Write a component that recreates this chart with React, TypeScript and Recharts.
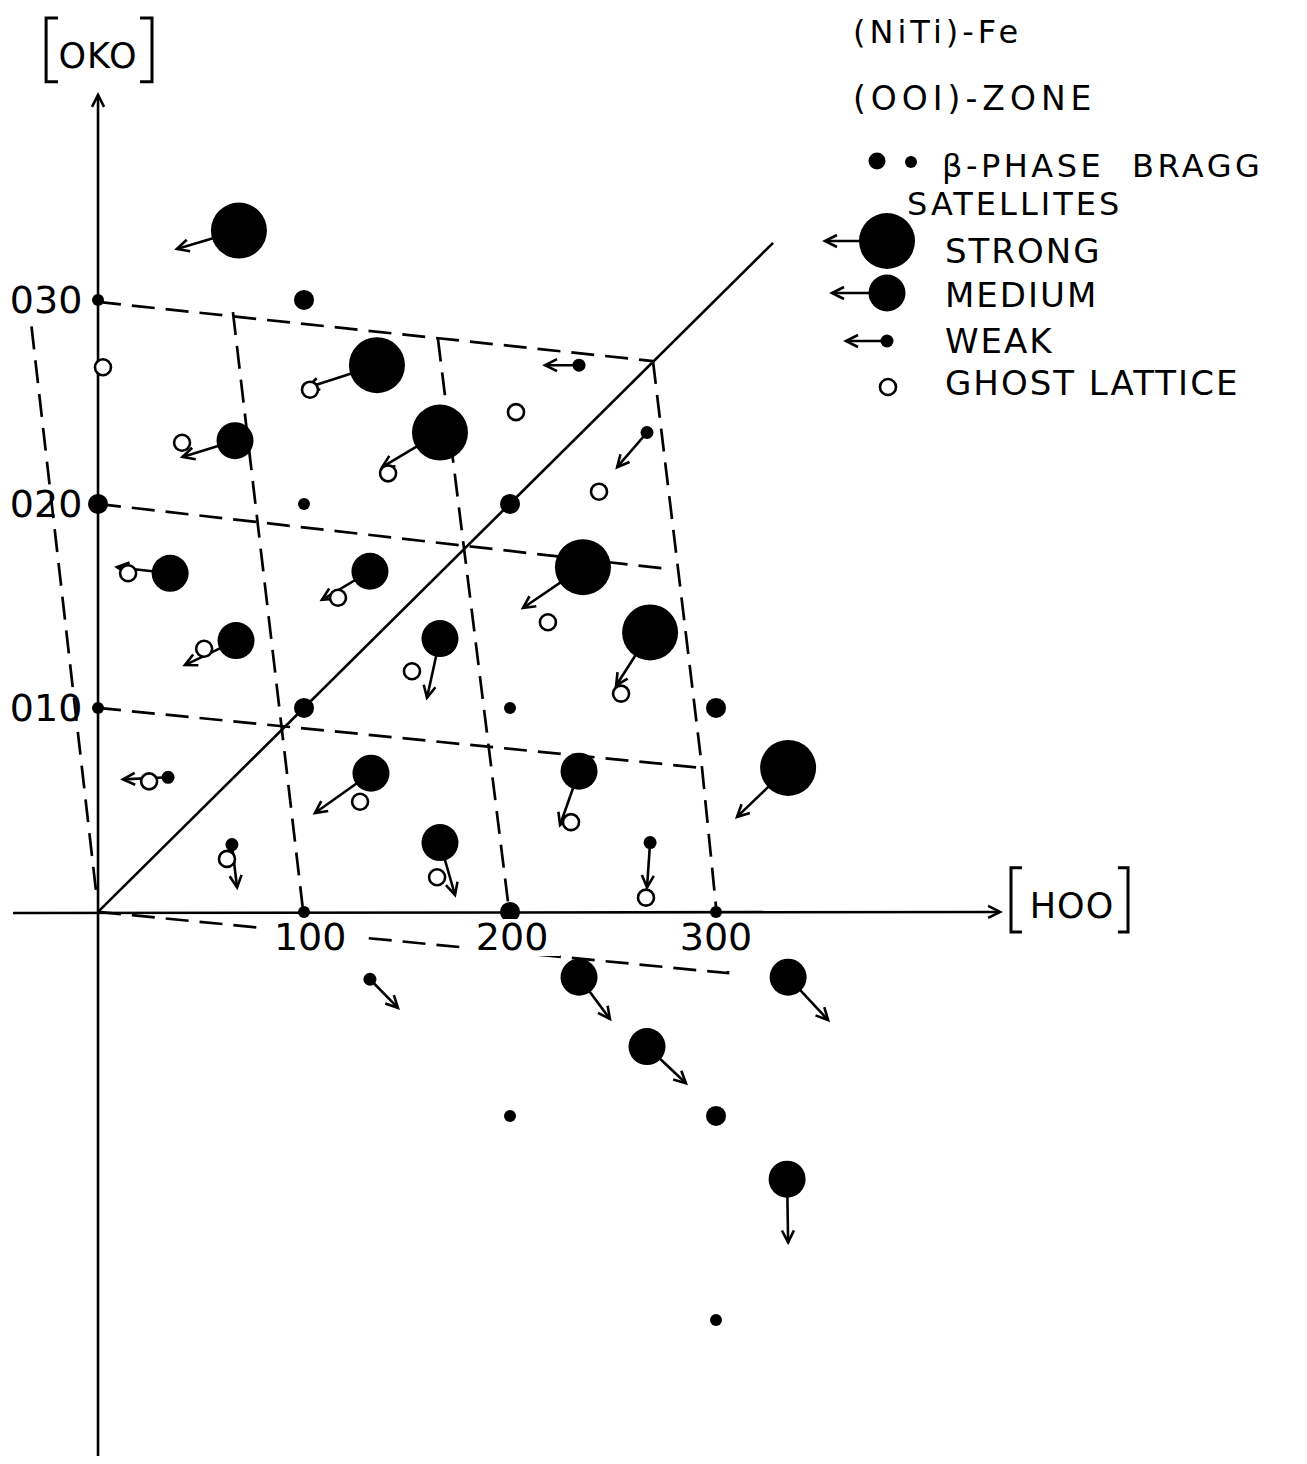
import React from "react";
import { ScatterChart, Scatter, XAxis, YAxis, Legend } from "recharts";

const W = 1291;
const H = 1448;
const FONT = '"DejaVu Sans", "Liberation Sans", sans-serif';

// reciprocal lattice: h in hundreds (100, 200, 300), k in tens (010, 020, 030)
const X_DOMAIN = [-43.7, 583.0];
const Y_DOMAIN = [-26.67, 44.31];

// beta-phase Bragg reflections
const braggSpots = [
  { x: 0, y: 30, kind: "small" },
  { x: 0, y: 20, kind: "large" },
  { x: 0, y: 10, kind: "small" },
  { x: 100, y: 30, kind: "large" },
  { x: 100, y: 20, kind: "small" },
  { x: 100, y: 10, kind: "large" },
  { x: 100, y: 0, kind: "small" },
  { x: 200, y: 20, kind: "large" },
  { x: 200, y: 10, kind: "small" },
  { x: 200, y: 0, kind: "large" },
  { x: 200, y: -10, kind: "small" },
  { x: 300, y: 10, kind: "large" },
  { x: 300, y: 0, kind: "small" },
  { x: 300, y: -10, kind: "large" },
  { x: 300, y: -20, kind: "small" },
];

// satellites: position (x, y) and arrow tip (tx, ty)
const strongSatellites = [
  { x: 68.4, y: 33.4, tx: 38.3, ty: 32.5 },
  { x: 135.4, y: 26.8, tx: 101.5, ty: 25.7 },
  { x: 166.0, y: 23.5, tx: 137.9, ty: 21.8 },
  { x: 235.4, y: 16.9, tx: 206.3, ty: 14.9 },
  { x: 268.0, y: 13.7, tx: 251.5, ty: 11.1 },
  { x: 335.0, y: 7.06, tx: 310.2, ty: 4.66 },
];

const mediumSatellites = [
  { x: 66.5, y: 23.1, tx: 41.0, ty: 22.3 },
  { x: 35.0, y: 16.6, tx: 9.2, ty: 16.9 },
  { x: 67.0, y: 13.3, tx: 42.2, ty: 12.1 },
  { x: 132.0, y: 16.7, tx: 108.7, ty: 15.3 },
  { x: 166.0, y: 13.4, tx: 159.7, ty: 10.5 },
  { x: 132.5, y: 6.8, tx: 105.3, ty: 4.85 },
  { x: 233.5, y: 6.9, tx: 224.3, ty: 4.26 },
  { x: 166.0, y: 3.4, tx: 173.3, ty: 0.83 },
  { x: 233.5, y: -3.2, tx: 248.5, ty: -5.25 },
  { x: 266.5, y: -6.6, tx: 285.4, ty: -8.4 },
  { x: 335.0, y: -3.2, tx: 354.4, ty: -5.3 },
  { x: 334.5, y: -13.1, tx: 335.0, ty: -16.2 },
];

const weakSatellites = [
  { x: 233.5, y: 26.8, tx: 217.0, ty: 26.8 },
  { x: 266.5, y: 23.5, tx: 252.0, ty: 21.8 },
  { x: 34.0, y: 6.6, tx: 12.1, ty: 6.5 },
  { x: 65.0, y: 3.3, tx: 67.5, ty: 1.2 },
  { x: 132.0, y: -3.3, tx: 145.6, ty: -4.7 },
  { x: 268.0, y: 3.4, tx: 266.5, ty: 1.2 },
];

const ghostSpots = [
  { x: 2.4, y: 26.7 },
  { x: 202.9, y: 24.5 },
  { x: 243.2, y: 20.6 },
  { x: 218.4, y: 14.2 },
  { x: 266.0, y: 0.7 },
  { x: 102.9, y: 25.6 },
  { x: 140.8, y: 21.5 },
  { x: 40.8, y: 23.0 },
  { x: 14.6, y: 16.6 },
  { x: 51.5, y: 12.9 },
  { x: 116.5, y: 15.4 },
  { x: 152.4, y: 11.8 },
  { x: 127.2, y: 5.4 },
  { x: 229.6, y: 4.4 },
  { x: 253.9, y: 10.7 },
  { x: 164.6, y: 1.7 },
  { x: 24.8, y: 6.4 },
  { x: 62.6, y: 2.6 },
];

// distorted lattice (dashed)
const latticeLines = [
  [{ x: 0, y: 29.9 }, { x: 269.4, y: 27.0 }],
  [{ x: 0, y: 20 }, { x: 277.7, y: 16.8 }],
  [{ x: 0, y: 10 }, { x: 293.2, y: 7.06 }],
  [{ x: 0, y: 0 }, { x: 305.8, y: -3.0 }, { x: 305.8, y: -2.45 }],
  [{ x: -32.3, y: 28.7 }, { x: -0.5, y: 0.6 }],
  [{ x: 65.5, y: 29.4 }, { x: 99.5, y: 0.1 }],
  [{ x: 165.0, y: 28.1 }, { x: 199.5, y: 0.1 }],
  [{ x: 269.4, y: 27.0 }, { x: 293.2, y: 7.06 }, { x: 300, y: 0.25 }],
];

const diagonal = [{ x: 0, y: 0 }, { x: 327.7, y: 32.8 }];
const kAxis = [{ x: 0, y: -27.5 }, { x: 0, y: 40.05 }];
const hAxis = [{ x: -41.3, y: -0.05 }, { x: 437.9, y: 0 }];

const kTicks = [
  { x: -7.6, y: 30, label: "030" },
  { x: -7.6, y: 20, label: "020" },
  { x: -7.6, y: 10, label: "010" },
];
const hTicks = [
  { x: 103, y: -1.23, label: "100" },
  { x: 201, y: -1.23, label: "200" },
  { x: 300, y: -1.23, label: "300" },
];

const axisNames = [
  { x: 0, y: 41.37, label: "OKO" },
  { x: 472.8, y: -0.29, label: "HOO" },
];
const brackets = [
  [{ x: -19.4, y: 43.82 }, { x: -25.2, y: 43.82 }, { x: -25.2, y: 40.69 }, { x: -19.4, y: 40.69 }],
  [{ x: 20.4, y: 43.82 }, { x: 26.2, y: 43.82 }, { x: 26.2, y: 40.69 }, { x: 20.4, y: 40.69 }],
  [{ x: 448.5, y: 2.16 }, { x: 443.2, y: 2.16 }, { x: 443.2, y: -0.98 }, { x: 448.5, y: -0.98 }],
  [{ x: 495.1, y: 2.16 }, { x: 500.0, y: 2.16 }, { x: 500.0, y: -0.98 }, { x: 495.1, y: -0.98 }],
];

const legendTitles = ["(NiTi)-Fe", "(OOI)-ZONE"];
const legendItems = [
  { label: "STRONG", kind: "strong" },
  { label: "MEDIUM", kind: "medium" },
  { label: "WEAK", kind: "weak" },
  { label: "GHOST LATTICE", kind: "ghost" },
];

const R = { strong: 28, medium: 18.5, weak: 6.5, large: 10, small: 6, ghost: 8 };

const blank = () => <g />;
const filled = (r: number) => (p: any) => <circle cx={p.cx} cy={p.cy} r={r} fill="#000" />;
const bragg = (p: any) => <circle cx={p.cx} cy={p.cy} r={R[p.payload.kind]} fill="#000" />;
const ghost = (p: any) => (
  <circle cx={p.cx} cy={p.cy} r={R.ghost} fill="#fff" stroke="#000" strokeWidth={2.6} />
);

const kTickLabel = (p: any) => (
  <text x={p.cx} y={p.cy} textAnchor="end" dominantBaseline="central" fontFamily={FONT} fontSize={38} fill="#000">
    {p.payload.label}
  </text>
);
const hTickLabel = (p: any) => (
  <g>
    <rect x={p.cx - 48} y={p.cy - 18} width={96} height={37} fill="#fff" />
    <text x={p.cx} y={p.cy} textAnchor="middle" dominantBaseline="central" fontFamily={FONT} fontSize={38} fill="#000">
      {p.payload.label}
    </text>
  </g>
);
const axisName = (p: any) => (
  <text x={p.cx} y={p.cy} textAnchor="middle" fontFamily={FONT} fontSize={35} letterSpacing={1} fill="#000">
    {p.payload.label}
  </text>
);

const dashed = { stroke: "#000", strokeWidth: 2.7, strokeDasharray: "23 11" };
const solid = { stroke: "#000", strokeWidth: 2.6 };
const arrow = { stroke: "#000", strokeWidth: 2.6, markerEnd: "url(#shift-arrow)" };

const arrowPairs = [...strongSatellites, ...mediumSatellites, ...weakSatellites].map((s) => [
  { x: s.x, y: s.y },
  { x: s.tx, y: s.ty },
]);

const txt = { fontFamily: FONT, fill: "#000" };

const LegendBox = () => (
  <svg width={479} height={420}>
    <text x={33} y={35} fontSize={32} letterSpacing={4} {...txt}>
      {legendTitles[0]}
    </text>
    <text x={33} y={102} fontSize={33} letterSpacing={5} {...txt}>
      {legendTitles[1]}
    </text>
    <circle cx={57} cy={153} r={8.5} fill="#000" />
    <circle cx={91} cy={154} r={6} fill="#000" />
    <text x={122} y={169} fontSize={32} letterSpacing={3.5} wordSpacing={14} {...txt}>
      β-PHASE BRAGG
    </text>
    <text x={87} y={207} fontSize={32} letterSpacing={3} {...txt}>
      SATELLITES
    </text>
    {legendItems.map((it, i) => {
      const cy = [233, 285, 333, 379][i];
      const tip = [5, 12, 26, 0][i];
      const cx = 67;
      return (
        <g key={it.label}>
          {it.kind !== "ghost" && (
            <line x1={cx} y1={cy} x2={tip} y2={cy} stroke="#000" strokeWidth={2.4} markerEnd="url(#shift-arrow)" />
          )}
          {it.kind === "ghost" ? (
            <circle cx={cx + 1} cy={cy} r={8} fill="#fff" stroke="#000" strokeWidth={2.6} />
          ) : (
            <circle cx={cx} cy={cy} r={R[it.kind]} fill="#000" />
          )}
          <text x={125} y={[255, 299, 345, 387][i]} fontSize={34} letterSpacing={2} {...txt}>
            {it.label}
          </text>
        </g>
      );
    })}
  </svg>
);

export default function App() {
  return (
    <div style={{ position: "relative", width: W, height: H }}>
      <svg width={0} height={0} style={{ position: "absolute" }}>
        <defs>
          <marker
            id="shift-arrow"
            markerUnits="userSpaceOnUse"
            markerWidth={16}
            markerHeight={14}
            viewBox="0 0 16 14"
            refX={14}
            refY={7}
            orient="auto"
            overflow="visible"
          >
            <path d="M2,1 L14,7 L2,13" fill="none" stroke="#000" strokeWidth={2.6} />
          </marker>
        </defs>
      </svg>
      <ScatterChart width={W} height={H} margin={{ top: 0, right: 0, bottom: 0, left: 0 }}>
        <XAxis type="number" dataKey="x" domain={X_DOMAIN} allowDataOverflow hide />
        <YAxis type="number" dataKey="y" domain={Y_DOMAIN} allowDataOverflow hide />
        <Legend
          layout="vertical"
          align="center"
          verticalAlign="middle"
          wrapperStyle={{ position: "absolute", left: 812, top: 0, width: 479, height: 420 }}
          content={() => <LegendBox />}
        />
        {latticeLines.map((pts, i) => (
          <Scatter key={"l" + i} data={pts} line={dashed} shape={blank} isAnimationActive={false} />
        ))}
        <Scatter data={diagonal} line={solid} shape={blank} isAnimationActive={false} />
        <Scatter data={kAxis} line={arrow} shape={blank} isAnimationActive={false} />
        <Scatter data={hAxis} line={arrow} shape={blank} isAnimationActive={false} />
        {brackets.map((pts, i) => (
          <Scatter key={"b" + i} data={pts} line={{ stroke: "#000", strokeWidth: 3 }} shape={blank} isAnimationActive={false} />
        ))}
        {arrowPairs.map((pts, i) => (
          <Scatter key={"a" + i} data={pts} line={arrow} shape={blank} isAnimationActive={false} />
        ))}
        <Scatter data={ghostSpots} shape={ghost} isAnimationActive={false} />
        <Scatter data={braggSpots} shape={bragg} isAnimationActive={false} />
        <Scatter data={strongSatellites} shape={filled(R.strong)} isAnimationActive={false} />
        <Scatter data={mediumSatellites} shape={filled(R.medium)} isAnimationActive={false} />
        <Scatter data={weakSatellites} shape={filled(R.weak)} isAnimationActive={false} />
        <Scatter data={kTicks} shape={kTickLabel} isAnimationActive={false} />
        <Scatter data={hTicks} shape={hTickLabel} isAnimationActive={false} />
        <Scatter data={axisNames} shape={axisName} isAnimationActive={false} />
      </ScatterChart>
    </div>
  );
}
